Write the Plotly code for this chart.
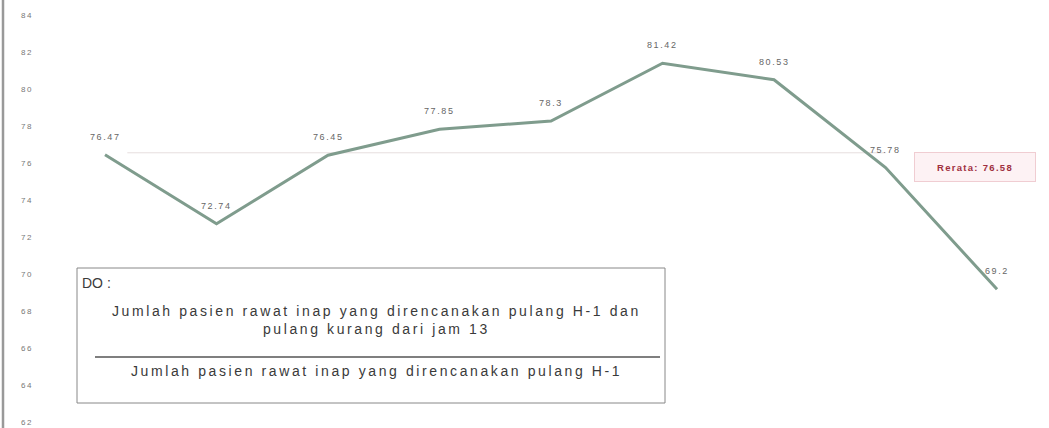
import plotly.graph_objects as go

# Monthly DO percentage (nine periods) and the overall average
periods = ["1", "2", "3", "4", "5", "6", "7", "8", "9"]
do_values = [76.47, 72.74, 76.45, 77.85, 78.3, 81.42, 80.53, 75.78, 69.2]
rerata = 76.58
y_ticks = [62, 64, 66, 68, 70, 72, 74, 76, 78, 80, 82, 84]

x_idx = list(range(len(periods)))


def spaced(text, px):
    """Wrap text in a span with extra letter spacing."""
    return f'<span style="letter-spacing:{px}px">{text}</span>'


fig = go.Figure()

# average reference line
fig.add_trace(go.Scatter(
    x=[0.2, 7.0], y=[rerata, rerata], mode="lines",
    line=dict(color="rgba(215,200,200,0.6)", width=1),
    hoverinfo="skip", showlegend=False,
))

# main series
fig.add_trace(go.Scatter(
    x=x_idx, y=do_values, mode="lines",
    line=dict(color="#7f9c8d", width=3),
    showlegend=False,
))

# value labels above each point
for i, v in zip(x_idx, do_values):
    fig.add_annotation(
        x=i, y=v, text=spaced(f"{v:g}", 1.6), showarrow=False, yshift=18,
        font=dict(family="Liberation Sans, Arial", size=9, color="#666666"),
    )

# average label
fig.add_annotation(
    x=7.8, y=rerata, text=spaced(f"<b>Rerata: {rerata:g}</b>", 1.3),
    showarrow=False, yshift=-14, width=106, height=14,
    font=dict(family="Liberation Sans, Arial", size=9.5, color="#a03040"),
    bgcolor="rgba(253,242,244,1)", bordercolor="rgba(240,205,210,1)",
    borderwidth=1, borderpad=7,
)

# definition box
fig.add_shape(type="rect", xref="paper", yref="paper",
              x0=(77 - 40) / 1009, x1=(665 - 40) / 1009,
              y0=1 - 403 / 428, y1=1 - 268 / 428,
              line=dict(color="#888888", width=1), fillcolor="white")
fig.add_shape(type="line", xref="paper", yref="paper",
              x0=(95 - 40) / 1009, x1=(660 - 40) / 1009,
              y0=1 - 357 / 428, y1=1 - 357 / 428,
              line=dict(color="#555555", width=1.5))

box_font = dict(family="Liberation Sans, Arial", size=14, color="#3a3a3a")
fig.add_annotation(xref="paper", yref="paper", x=(80 - 40) / 1009, y=1 - 283 / 428,
                   text="DO :", showarrow=False, xanchor="left", font=box_font)
fig.add_annotation(xref="paper", yref="paper", x=(376 - 40) / 1009, y=1 - 320 / 428,
                   text=spaced("Jumlah pasien rawat inap yang direncanakan pulang H-1 dan", 2.6)
                   + "<br>" + spaced("pulang kurang dari jam 13", 2.6),
                   showarrow=False, xanchor="center", yanchor="middle", align="center",
                   font=box_font)
fig.add_annotation(xref="paper", yref="paper", x=(376 - 40) / 1009, y=1 - 381 / 428,
                   text=spaced("Jumlah pasien rawat inap yang direncanakan pulang H-1", 2.6),
                   showarrow=False, xanchor="center", font=box_font)

# left border line
fig.add_shape(type="line", xref="paper", yref="paper",
              x0=-37 / 1009, x1=-37 / 1009, y0=0, y1=1,
              line=dict(color="#999999", width=2.5))

fig.update_xaxes(range=[-0.583, 8.466], showgrid=False, zeroline=False,
                 showticklabels=False, showline=False)
fig.update_yaxes(range=[61.7, 84.84], tickvals=y_ticks,
                 ticktext=[spaced(str(t), 1.5) for t in y_ticks],
                 showgrid=False, zeroline=False, showline=False,
                 ticklabelstandoff=6,
                 tickfont=dict(family="Liberation Sans, Arial", size=8, color="#777777"))

fig.update_layout(
    width=1049, height=428,
    margin=dict(l=40, r=0, t=0, b=0),
    paper_bgcolor="white", plot_bgcolor="white",
)

fig.write_html("out.html")
